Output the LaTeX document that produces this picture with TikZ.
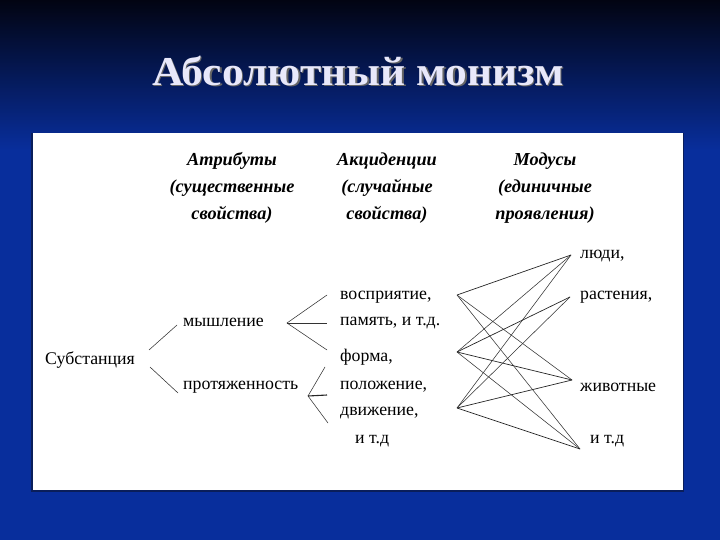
\documentclass[tikz,border=0pt]{standalone}
\usepackage{fontspec}
\setmainfont{Liberation Serif}
\newfontfamily\titlefont[FakeStretch=1.06]{Liberation Serif}
\definecolor{bgblue}{RGB}{8,46,156}
\definecolor{bgtop}{RGB}{2,4,18}
\definecolor{titlecol}{RGB}{232,232,250}
\definecolor{paneledge}{RGB}{10,30,90}
\begin{document}
\begin{tikzpicture}[x=1pt,y=-1pt,
  txt/.style={inner sep=0pt, anchor=west, font=\fontsize{17.8}{20}\selectfont},
  hdr/.style={inner sep=0pt, align=center, font=\fontsize{18.3}{27}\selectfont\bfseries\itshape},
  ttl/.style={inner sep=0pt, font=\titlefont\fontsize{41}{44}\selectfont\bfseries},
  ln/.style={line width=0.7pt, black!85},
  tln/.style={line width=0.55pt, black!80}]
\useasboundingbox (0,0) rectangle (720,540);
\fill[bgblue] (0,0) rectangle (720,540);
\shade[top color=bgtop, bottom color=bgblue] (0,0) rectangle (720,150);
\fill[paneledge] (31,133) rectangle (684,492);
\fill[white] (33,133) rectangle (683,490);
\node[ttl, text=black!60] at (359.5,72.5) {Абсолютный монизм};
\node[ttl, text=titlecol] (title) at (358,71) {Абсолютный монизм};
% headers
\node[hdr] (h1) at (232,188) {Атрибуты\\(существенные\\свойства)};
\node[hdr] (h2) at (387,188) {Акциденции\\(случайные\\свойства)};
\node[hdr] (h3) at (545,188) {Модусы\\(единичные\\проявления)};
% texts
\node[txt] (subst) at (45,360) {Субстанция};
\node[txt] (mysh) at (183,322) {мышление};
\node[txt] (prot) at (183,387) {протяженность};
\node[txt] (a1) at (340,297) {восприятие,};
\node[txt] (a2) at (340,323) {память, и т.д.};
\node[txt] (a3) at (340,357) {форма,};
\node[txt] (a4) at (340,387) {положение,};
\node[txt] (a5) at (340,413) {движение,};
\node[txt] (a6) at (355,441) {и т.д};
\node[txt] (m1) at (580,256) {люди,};
\node[txt] (m2) at (580,297) {растения,};
\node[txt] (m3) at (580,387) {животные};
\node[txt] (m4) at (590,441) {и т.д};
% tree coordinates
\coordinate (s1) at (149,350); \coordinate (s1e) at (177,325);
\coordinate (s2) at (150,367); \coordinate (s2e) at (178,393);
\coordinate (f1) at (287,323);
\coordinate (f1a) at (327,295); \coordinate (f1b) at (327,323); \coordinate (f1c) at (327,350);
\coordinate (f2) at (308,396);
\coordinate (f2a) at (325,367); \coordinate (f2b) at (327,395); \coordinate (f2c) at (328,423);
\draw[tln] (s1) -- (s1e);
\draw[tln] (s2) -- (s2e);
\draw[tln] (f1a) -- (f1) -- (f1c);
\draw[tln] (f1) -- (f1b);
\draw[tln] (f2a) -- (f2) -- (f2c);
\draw[ln, line width=1.1pt] (f2) -- (f2b);
% bipartite
\coordinate (L1) at (457,295); \coordinate (L2) at (457,352); \coordinate (L3) at (457,408);
\coordinate (R1) at (571,255); \coordinate (R2) at (570,297); \coordinate (R3) at (572,380); \coordinate (R4) at (580,449);
\draw[ln] (L1) -- (R1);
\draw[tln] (L1) -- (R3);
\draw[tln] (L1) -- (R4);
\draw[tln] (L2) -- (R1);
\draw[ln] (L2) -- (R2);
\draw[ln] (L2) -- (R3);
\draw[tln] (L2) -- (R4);
\draw[tln] (L3) -- (R1);
\draw[tln] (L3) -- (R2);
\draw[ln] (L3) -- (R3);
\draw[ln] (L3) -- (R4);
\end{tikzpicture}
\end{document}
